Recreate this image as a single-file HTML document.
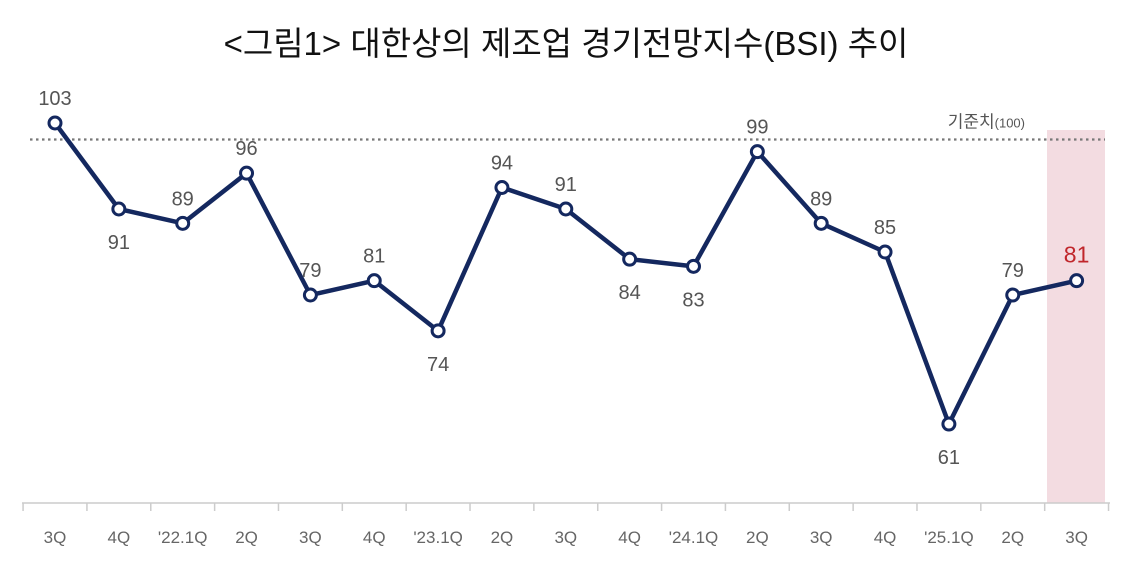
<!DOCTYPE html>
<html><head><meta charset="utf-8">
<style>
body{margin:0;background:#fff;width:1132px;height:572px;overflow:hidden;font-family:"Liberation Sans","Noto Sans CJK KR",sans-serif;}
</style></head>
<body>
<svg width="1132" height="572" xmlns="http://www.w3.org/2000/svg">
<text x="566" y="55" text-anchor="middle" font-size="33" fill="#111" font-family="Liberation Sans, Noto Sans CJK KR, sans-serif">&lt;그림1&gt; 대한상의 제조업 경기전망지수(BSI) 추이</text>
<rect x="1047" y="130" width="58" height="373" fill="#f3dce1"/>
<g id="plot"></g>
</svg>
<script>
const categories=["3Q","4Q","'22.1Q","2Q","3Q","4Q","'23.1Q","2Q","3Q","4Q","'24.1Q","2Q","3Q","4Q","'25.1Q","2Q","3Q"];
const values=[103,91,89,96,79,81,74,94,91,84,83,99,89,85,61,79,81];
const labelBelow=[0,1,0,0,0,0,1,0,0,1,1,0,0,0,1,0,0];
const refValue=100;
const NS="http://www.w3.org/2000/svg";
const g=document.getElementById('plot');
const x0=55,dx=63.85;
function xS(i){return x0+i*dx;}
function yS(v){return 123+(103-v)*7.167;}
function mk(t,a){const e=document.createElementNS(NS,t);for(const k in a)e.setAttribute(k,a[k]);g.appendChild(e);return e;}
// reference line
let rl=mk('line',{x1:30,x2:1105,y1:yS(refValue)-5,y2:yS(refValue)-5,stroke:'#777','stroke-width':2.2,'stroke-dasharray':'2.5 3.5'});


let rt=mk('text',{x:1025,y:yS(refValue)-17,'text-anchor':'end','font-size':17,fill:'#555'});


rt.innerHTML='기준치<tspan font-size="13">(100)</tspan>';
// axis
let ax=mk('line',{x1:22,x2:1110,y1:503,y2:503,stroke:'#ccc','stroke-width':1.5});


for(let i=0;i<=categories.length;i++){
  const tx=xS(i)-dx/2;
  let t=mk('line',{x1:tx,x2:tx,y1:503,y2:511,stroke:'#ccc','stroke-width':1.5});
  
  
}
categories.forEach((c,i)=>{
  let t=mk('text',{x:xS(i),y:543,'text-anchor':'middle','font-size':17,fill:'#666'});
  
  
  t.textContent=c;
});
// line
let p=mk('polyline',{points:values.map((v,i)=>xS(i)+','+yS(v)).join(' '),fill:'none',stroke:'#14285f','stroke-width':4.5,'stroke-linejoin':'round'});


values.forEach((v,i)=>{
  let c=mk('circle',{cx:xS(i),cy:yS(v),r:6,fill:'#fff',stroke:'#14285f','stroke-width':3});
  
  
  const last=i===values.length-1;
  let t=mk('text',{x:xS(i),y:labelBelow[i]?yS(v)+40:yS(v)-18,'text-anchor':'middle','font-size':last?23:20,fill:last?'#c0262b':'#555'});
  
  
  t.textContent=v;
});
</script>
</body></html>
